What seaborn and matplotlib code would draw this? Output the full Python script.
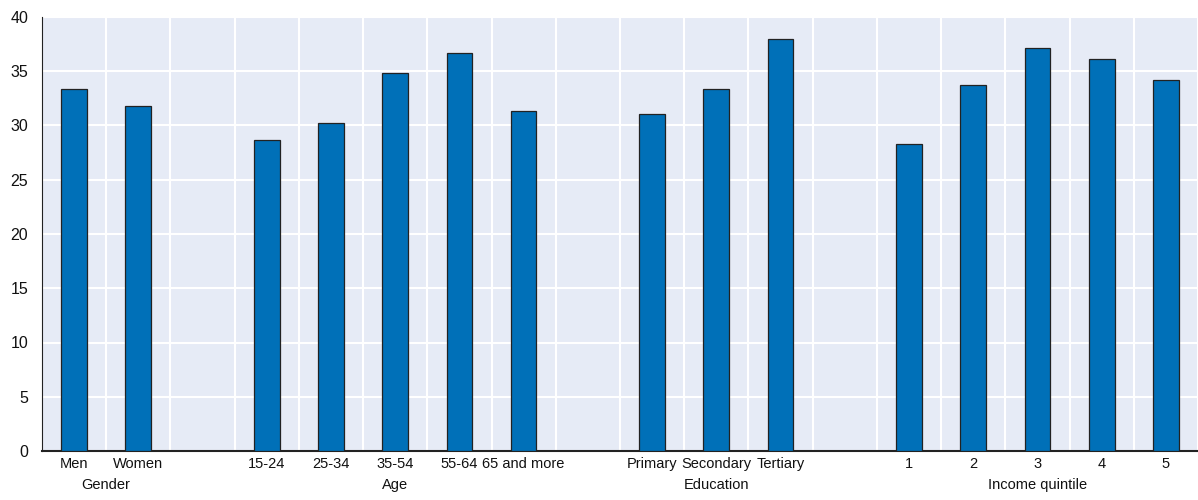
import numpy as np
import pandas as pd
import matplotlib
matplotlib.use('Agg')
import matplotlib.pyplot as plt
import seaborn as sns

# categories (gaps between groups are empty slots)
categories = ['Men', 'Women', 'gap1',
              '15-24', '25-34', '35-54', '55-64', '65 and more', 'gap2',
              'Primary', 'Secondary', 'Tertiary', 'gap3',
              '1', '2', '3', '4', '5']
values = [33.4, 31.8, np.nan,
          28.7, 30.2, 34.8, 36.7, 31.3, np.nan,
          31.1, 33.4, 38.0, np.nan,
          28.3, 33.7, 37.1, 36.1, 34.2]
group_names = ['Gender', 'Age', 'Education', 'Income quintile']
group_centers = [0.5, 5, 10, 15]

sns.set_style('white')
plt.rcParams['font.family'] = ['Liberation Sans Narrow', 'Liberation Sans', 'DejaVu Sans']

df = pd.DataFrame({'cat': categories, 'val': values})

fig = plt.figure(figsize=(11.98, 5), dpi=100)
ax = fig.add_axes([0.035, 0.098, 0.965, 0.868])
ax.set_facecolor('#E6EBF6')

sns.barplot(data=df, x='cat', y='val', order=categories, color='#0070B8',
            saturation=1, width=0.4, edgecolor='#222222', linewidth=0.9, ax=ax,
            zorder=3)

ax.set_xlim(-0.5, len(categories) - 0.5)
ax.set_ylim(0, 40)
ax.set_yticks(range(0, 41, 5))
ax.set_xticks(range(len(categories)))
ax.set_xticklabels(['' if c.startswith('gap') else c for c in categories],
                   fontsize=10.5, color='#111111')
ax.set_xticks(np.arange(-0.5, len(categories), 1), minor=True)
ax.tick_params(axis='x', which='major', length=0, pad=4)
ax.tick_params(axis='x', which='minor', length=5, width=1.2, color='#222222', direction='in')
ax.tick_params(axis='y', length=4, width=1, color='#222222', labelsize=11.5,
               labelcolor='#111111', pad=6)

ax.grid(axis='y', color='white', linewidth=1.5, zorder=0)
ax.grid(axis='x', which='minor', color='white', linewidth=1.5, zorder=0)
ax.set_axisbelow(True)

for s in ['top', 'right']:
    ax.spines[s].set_visible(False)
ax.spines['left'].set_color('#222222')
ax.spines['bottom'].set_color('#222222')
ax.spines['bottom'].set_linewidth(1.5)
ax.set_xlabel('')
ax.set_ylabel('')

for name, xc in zip(group_names, group_centers):
    ax.text(xc, -0.063, name, transform=ax.get_xaxis_transform(),
            ha='center', va='top', fontsize=10.5, color='#111111')

fig.savefig('out.png', dpi=100)
